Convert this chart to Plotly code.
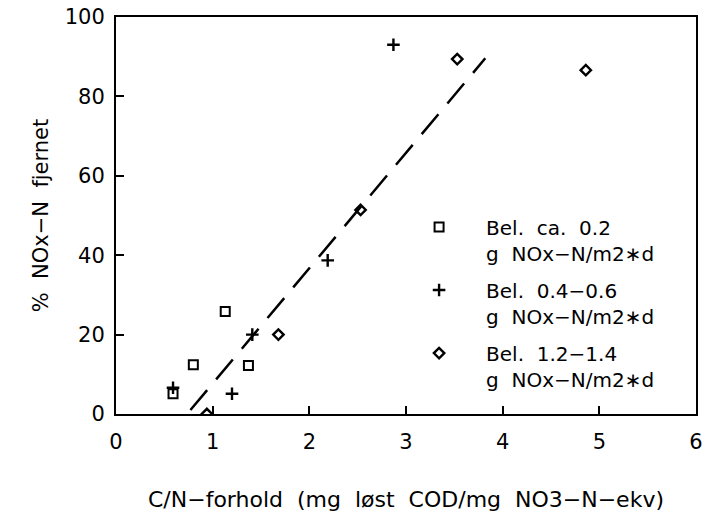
import plotly.graph_objects as go

# Data
sq_x = [0.59, 0.80, 1.13, 1.37]
sq_y = [5.1, 12.4, 25.8, 12.2]
pl_x = [0.59, 1.20, 1.41, 2.19, 2.87]
pl_y = [6.6, 5.1, 20.0, 38.7, 93.0]
di_x = [0.94, 1.68, 2.53, 3.53, 4.86]
di_y = [0.0, 20.0, 51.4, 89.4, 86.6]
fit_x = [0.77, 3.82]
fit_y = [1.0, 89.6]

S = "\u00a0\u00a0"
names = ["Bel." + S + "ca." + S + "0.2<br>g" + S + "NOx\u2212N/m2\u2217d",
         "Bel." + S + "0.4\u22120.6<br>g" + S + "NOx\u2212N/m2\u2217d",
         "Bel." + S + "1.2\u22121.4<br>g" + S + "NOx\u2212N/m2\u2217d"]
x_title = "C/N\u2212forhold" + S + "(mg" + S + "løst" + S + "COD/mg" + S + "NO3\u2212N\u2212ekv)"
y_title = "%" + S + "NOx\u2212N" + S + "fjernet"

FONT = "DejaVu Sans"
fig = go.Figure()
fig.add_trace(go.Scatter(x=fit_x, y=fit_y, mode="lines", showlegend=False,
                         line=dict(color="black", width=2.5, dash="26px,14px")))
fig.add_trace(go.Scatter(x=sq_x, y=sq_y, mode="markers", name=names[0], legendgroup="a",
                         marker=dict(symbol="square-open", size=9, color="black",
                                     line=dict(width=2, color="black"))))
fig.add_trace(go.Scatter(x=pl_x, y=pl_y, mode="markers", name=names[1], legendgroup="b",
                         marker=dict(symbol="cross-thin", size=9, color="black",
                                     line=dict(width=2.4, color="black"))))
fig.add_trace(go.Scatter(x=di_x, y=di_y, mode="markers", name=names[2], legendgroup="c",
                         marker=dict(symbol="diamond-open", size=8, color="black",
                                     line=dict(width=2.4, color="black"))))

axis_common = dict(showline=True, linecolor="black", linewidth=2, mirror=True,
                   ticks="inside", ticklen=8, tickwidth=1.5, tickcolor="black",
                   showgrid=False, zeroline=False, automargin=False,
                   tickfont=dict(family=FONT, size=21, color="black"))

fig.update_xaxes(range=[0, 6], tickvals=[0, 1, 2, 3, 4, 5, 6], ticklabelstandoff=8,
                 title=dict(text=x_title,
                            font=dict(family=FONT, size=22, color="black"), standoff=38),
                 **axis_common)
fig.update_yaxes(range=[0, 100], tickvals=[0, 20, 40, 60, 80, 100], ticklabelstandoff=5,
                 title=dict(text=y_title,
                            font=dict(family=FONT, size=21, color="black"), standoff=10),
                 **axis_common)

fig.update_layout(
    width=706, height=515,
    margin=dict(l=116, r=10, t=17, b=101),
    paper_bgcolor="white", plot_bgcolor="white",
    font=dict(family=FONT, color="black"),
    legend=dict(x=0.476, y=0.52, xanchor="left", yanchor="top",
                bgcolor="rgba(0,0,0,0)", font=dict(family=FONT, size=20, color="black"),
                valign="top", tracegroupgap=8, itemwidth=84),
)

fig.write_html("out.html")
